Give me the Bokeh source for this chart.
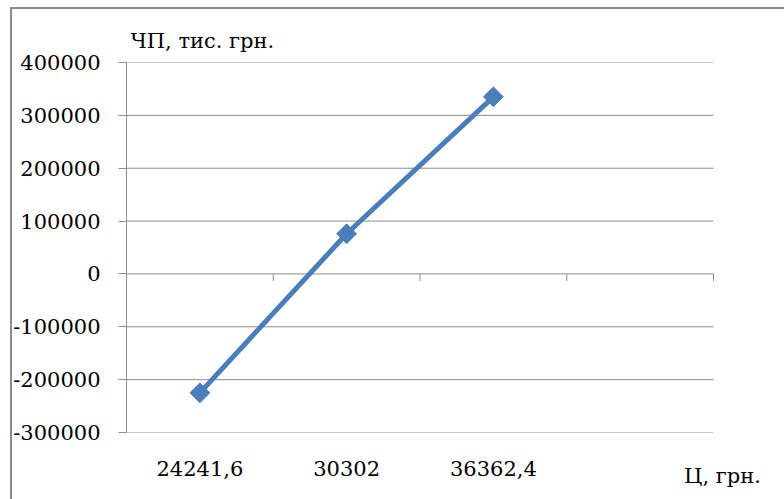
import math

from bokeh.embed import file_html
from bokeh.models import FixedTicker, Range1d, Title
from bokeh.plotting import figure
from bokeh.resources import INLINE

# Price scenarios (category labels) and net profit for each, thousand UAH
categories = ["24241,6", "30302", "36362,4"]
profit = [-225000, 76000, 335000]
y_ticks = [-300000, -200000, -100000, 0, 100000, 200000, 300000, 400000]
n_slots = 4  # category slots on the horizontal axis (last one is empty)

FONT = "DejaVu Serif"
FONT_SIZE = "21px"
GREY = "#8c8c8c"
BLUE = "#4a7ebb"

x_pos = [i + 0.5 for i in range(len(categories))]

# frame runs past the last slot so the unit caption can sit under it
frame_left, slot_right, frame_right = 126, 713, 722
x_end = n_slots * (frame_right - frame_left) / (slot_right - frame_left)

p = figure(
    width=784, height=499,
    x_range=Range1d(0, x_end), y_range=Range1d(y_ticks[0], y_ticks[-1]),
    output_backend="svg", toolbar_location=None,
    min_border_left=frame_left, min_border_right=784 - frame_right,
    min_border_top=62, min_border_bottom=67,
)
p.outline_line_color = None
p.background_fill_color = None
p.border_fill_color = None
# outer chart border (left and top edges visible)
p.styles = {
    "background-color": "white",
    "background-image": f"linear-gradient({GREY}, {GREY}), linear-gradient({GREY}, {GREY})",
    "background-position": "10px 7px, 10px 7px",
    "background-size": "2px 100%, 100% 2px",
    "background-repeat": "no-repeat",
}

# vertical value axis
yax = p.yaxis[0]
yax.ticker = FixedTicker(ticks=y_ticks)
yax.major_label_overrides = {t: str(t) for t in y_ticks}
yax.axis_line_color = GREY
yax.major_tick_line_color = GREY
yax.major_tick_out = 8
yax.major_tick_in = 0
yax.minor_tick_line_color = None
yax.major_label_standoff = 18
yax.major_label_text_font = FONT
yax.major_label_text_font_size = FONT_SIZE
yax.major_label_text_color = "black"

# category labels along the bottom, unit caption at the right
xax = p.xaxis[0]
xax.ticker = FixedTicker(ticks=x_pos)
xax.major_label_overrides = {x: c for x, c in zip(x_pos, categories)}
xax.axis_line_color = None
xax.major_tick_line_color = None
xax.minor_tick_line_color = None
xax.major_label_standoff = 22
xax.major_label_text_font = FONT
xax.major_label_text_font_size = FONT_SIZE
xax.major_label_text_color = "black"
xax.axis_label = "Ц, грн."
xax.axis_label_align = "end"
xax.axis_label_standoff = -15
xax.axis_label_text_font = FONT
xax.axis_label_text_font_style = "normal"
xax.axis_label_text_font_size = FONT_SIZE
xax.axis_label_text_color = "black"

# horizontal gridlines across the category slots
p.xgrid.grid_line_color = None
p.ygrid.grid_line_color = None
p.segment(x0=0, x1=n_slots, y0=y_ticks, y1=y_ticks,
          line_color=GREY, line_width=1)

# category boundary ticks hanging from the zero line
bounds = list(range(1, n_slots + 1))
p.ray(x=bounds, y=[0] * len(bounds), length=7, length_units="screen",
      angle=-math.pi / 2, line_color=GREY, line_width=1)

# net profit series
p.line(x_pos, profit, line_color=BLUE, line_width=5)
p.scatter(x_pos, profit, marker="square", angle=math.pi / 4, size=14,
          fill_color=BLUE, line_color=BLUE)

# value axis caption
p.add_layout(Title(text="ЧП, тис. грн.", align="left", offset=4, standoff=20,
                   text_font=FONT, text_font_style="normal",
                   text_font_size=FONT_SIZE, text_color="black"), "above")

open("out.html", "w").write(file_html(p, INLINE))
